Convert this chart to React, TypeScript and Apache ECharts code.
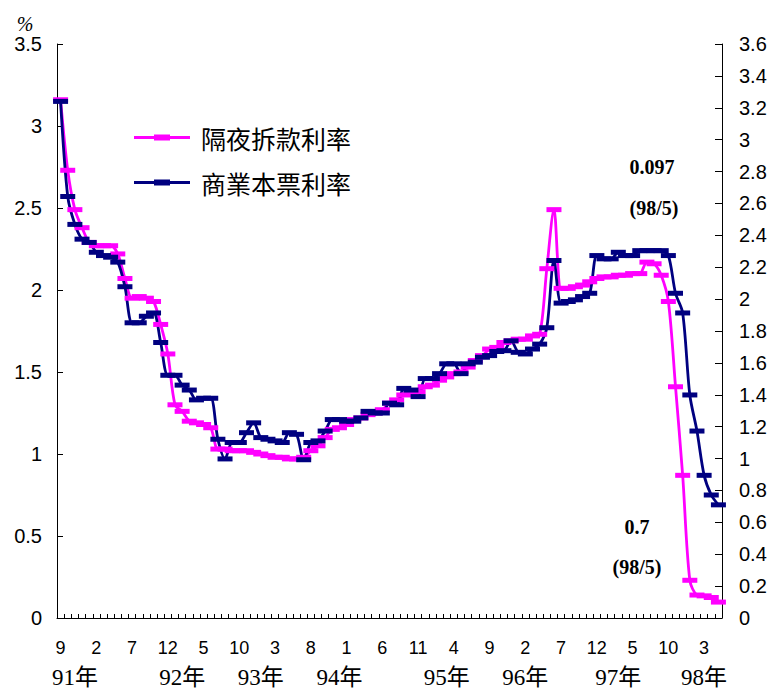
import React, { useEffect, useRef } from "react";
import * as echarts from "echarts";

const categories = [
  "90/9", "90/10", "90/11", "90/12",
  "91/1", "91/2", "91/3", "91/4", "91/5", "91/6", "91/7", "91/8", "91/9", "91/10", "91/11", "91/12",
  "92/1", "92/2", "92/3", "92/4", "92/5", "92/6", "92/7", "92/8", "92/9", "92/10", "92/11", "92/12",
  "93/1", "93/2", "93/3", "93/4", "93/5", "93/6", "93/7", "93/8", "93/9", "93/10", "93/11", "93/12",
  "94/1", "94/2", "94/3", "94/4", "94/5", "94/6", "94/7", "94/8", "94/9", "94/10", "94/11", "94/12",
  "95/1", "95/2", "95/3", "95/4", "95/5", "95/6", "95/7", "95/8", "95/9", "95/10", "95/11", "95/12",
  "96/1", "96/2", "96/3", "96/4", "96/5", "96/6", "96/7", "96/8", "96/9", "96/10", "96/11", "96/12",
  "97/1", "97/2", "97/3", "97/4", "97/5", "97/6", "97/7", "97/8", "97/9", "97/10", "97/11", "97/12",
  "98/1", "98/2", "98/3", "98/4", "98/5",
];

const seriesNames = ["隔夜拆款利率", "商業本票利率"];

const overnightRate = [
  3.16, 2.73, 2.49, 2.38,
  2.29, 2.27, 2.27, 2.27, 2.22, 2.07, 1.95, 1.96, 1.95, 1.93, 1.79, 1.61,
  1.30, 1.26, 1.20, 1.19, 1.18, 1.16, 1.03, 1.03, 1.02, 1.02, 1.02, 1.01,
  1.00, 0.99, 0.98, 0.98, 0.97, 0.97, 0.98, 1.02, 1.05, 1.10, 1.15, 1.16,
  1.18, 1.21, 1.22, 1.24, 1.25, 1.27, 1.31, 1.33, 1.36, 1.37, 1.38, 1.41,
  1.42, 1.45, 1.47, 1.49, 1.50, 1.53, 1.57, 1.60, 1.64, 1.65, 1.68, 1.69,
  1.70, 1.70, 1.72, 1.73, 2.13, 2.49, 2.01, 2.01, 2.02, 2.03, 2.05, 2.07,
  2.08, 2.08, 2.09, 2.09, 2.10, 2.10, 2.17, 2.16, 2.09, 1.93, 1.41, 0.87,
  0.23, 0.14, 0.135, 0.125, 0.097,
];

const cpRate = [
  3.15, 2.57, 2.40, 2.31,
  2.29, 2.23, 2.21, 2.20, 2.17, 2.02, 1.80, 1.80, 1.84, 1.86, 1.68, 1.48,
  1.48, 1.42, 1.39, 1.33, 1.34, 1.34, 1.09, 0.97, 1.07, 1.07, 1.13, 1.19,
  1.10, 1.09, 1.08, 1.07, 1.13, 1.12, 0.965, 1.07, 1.08, 1.14, 1.21, 1.21,
  1.20, 1.20, 1.22, 1.26, 1.25, 1.25, 1.31, 1.30, 1.40, 1.39, 1.35, 1.46,
  1.46, 1.49, 1.55, 1.55, 1.49, 1.55, 1.56, 1.59, 1.60, 1.625, 1.63, 1.69,
  1.62, 1.61, 1.64, 1.67, 1.77, 2.18, 1.92, 1.93, 1.94, 1.96, 1.98, 2.21,
  2.19, 2.19, 2.23, 2.21, 2.21, 2.24, 2.24, 2.24, 2.24, 2.21, 1.98, 1.86,
  1.36, 1.14, 0.87, 0.75, 0.69,
];

const yearTickCats = ["90/11", "92/2", "93/1", "93/12", "95/3", "96/2", "97/3", "98/3"];
const yearNames = ["91年", "92年", "93年", "94年", "95年", "96年", "97年", "98年"];

const annotationTexts = ["0.097", "(98/5)", "0.7", "(98/5)"];

const MAGENTA = "#FF00FF";
const NAVY = "#000080";
const SANS = "'Liberation Sans', Arial, sans-serif";
const SERIF = "'Liberation Serif', 'Times New Roman', 'Noto Sans CJK TC', serif";
const CJK = "'Noto Sans CJK TC', sans-serif";

const legendIcon = "path://M0,1.5H20V0H36V1.5H56V4.5H36V6H20V4.5H0Z";

export default function App() {
  const ref = useRef<HTMLDivElement>(null);

  useEffect(() => {
    if (!ref.current) return;
    const chart = echarts.init(ref.current, null, { renderer: "svg" });
    const yearMap: Record<string, string> = {};
    yearTickCats.forEach((c, i) => {
      yearMap[c] = yearNames[i];
    });

    const makeSeries = (name: string, data: number[], color: string) => ({
      name,
      type: "line",
      data,
      xAxisIndex: 0,
      yAxisIndex: 0,
      smooth: 0.3,
      symbol: "rect",
      symbolSize: [15, 5],
      showAllSymbol: true,
      lineStyle: { color, width: 2.8 },
      itemStyle: { color, borderWidth: 0 },
      emphasis: { disabled: true },
    });

    chart.setOption({
      animation: false,
      grid: { left: 57, right: 53, top: 44, bottom: 68, containLabel: false },
      legend: {
        orient: "vertical",
        left: 134,
        top: 125,
        padding: 0,
        itemWidth: 56,
        itemHeight: 6,
        itemGap: 20,
        itemStyle: { borderWidth: 0 },
        textStyle: { fontSize: 25, fontFamily: CJK, color: "#000", padding: [0, 0, 0, 6] },
        data: [
          { name: seriesNames[0], icon: legendIcon },
          { name: seriesNames[1], icon: legendIcon },
        ],
      },
      xAxis: [
        {
          type: "category",
          data: categories,
          boundaryGap: true,
          axisLine: { lineStyle: { color: "#000", width: 1 } },
          axisTick: { show: true, inside: true, length: 4, interval: 0, lineStyle: { color: "#000" } },
          axisLabel: {
            interval: 4,
            formatter: (v: string) => v.split("/")[1],
            fontSize: 18,
            fontFamily: SANS,
            color: "#000",
            margin: 21,
          },
          splitLine: { show: false },
        },
        {
          type: "category",
          data: categories,
          position: "bottom",
          offset: 27,
          boundaryGap: true,
          axisLine: { show: false },
          axisTick: { show: false },
          axisLabel: {
            interval: 0,
            formatter: (v: string) => yearMap[v] || "",
            fontSize: 23,
            fontFamily: SERIF,
            color: "#000",
            margin: 21,
          },
          splitLine: { show: false },
        },
      ],
      yAxis: [
        {
          type: "value",
          min: 0,
          max: 3.5,
          interval: 0.5,
          position: "left",
          axisLine: { show: true, lineStyle: { color: "#000", width: 1 } },
          axisTick: { show: true, inside: true, length: 6, lineStyle: { color: "#000" } },
          axisLabel: { fontSize: 20, fontFamily: SANS, color: "#000", margin: 15 },
          splitLine: { show: false },
        },
        {
          type: "value",
          min: 0,
          max: 3.6,
          interval: 0.2,
          position: "right",
          axisLine: { show: true, lineStyle: { color: "#000", width: 1 } },
          axisTick: { show: true, inside: true, length: 7, lineStyle: { color: "#000" } },
          axisLabel: { fontSize: 20, fontFamily: SANS, color: "#000", margin: 17 },
          splitLine: { show: false },
        },
      ],
      graphic: [
        {
          type: "text",
          x: 25,
          y: 24,
          style: { text: "%", font: `italic 20px ${SERIF}`, fill: "#000", align: "center", verticalAlign: "middle" },
        },
        {
          type: "text",
          x: 652,
          y: 167,
          style: { text: annotationTexts[0], font: `bold 20px ${SERIF}`, fill: "#000", align: "center", verticalAlign: "middle" },
        },
        {
          type: "text",
          x: 654,
          y: 208,
          style: { text: annotationTexts[1], font: `bold 20px ${SERIF}`, fill: "#000", align: "center", verticalAlign: "middle" },
        },
        {
          type: "text",
          x: 637,
          y: 527,
          style: { text: annotationTexts[2], font: `bold 20px ${SERIF}`, fill: "#000", align: "center", verticalAlign: "middle" },
        },
        {
          type: "text",
          x: 637,
          y: 567,
          style: { text: annotationTexts[3], font: `bold 20px ${SERIF}`, fill: "#000", align: "center", verticalAlign: "middle" },
        },
      ],
      series: [
        makeSeries(seriesNames[0], overnightRate, MAGENTA),
        makeSeries(seriesNames[1], cpRate, NAVY),
      ],
    });

    return () => {
      chart.dispose();
    };
  }, []);

  return (
    <div
      ref={ref}
      style={{ position: "fixed", left: 0, top: 0, width: 775, height: 689, background: "#fff" }}
    />
  );
}
